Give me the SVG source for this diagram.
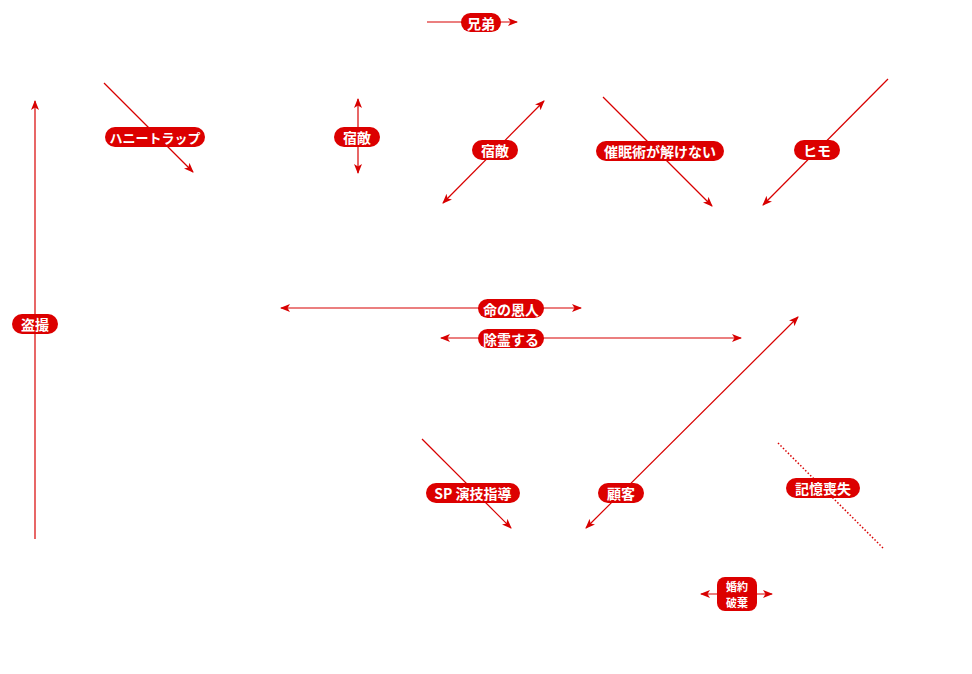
<svg xmlns="http://www.w3.org/2000/svg" width="972" height="674" viewBox="0 0 972 674">
<defs>
<marker id="ah" viewBox="0 0 10 8" refX="9" refY="4" markerWidth="10" markerHeight="8" markerUnits="userSpaceOnUse" orient="auto-start-reverse">
<path d="M0,0 L10,4 L0,8 L2.5,4 z" fill="#d80000"/>
</marker>
<style>
.c{stroke:#d80000;stroke-width:1.2;fill:none}
.d{stroke:#d80000;stroke-width:1.5;fill:none;stroke-dasharray:1.5 2}
.p{fill:#dc0000}
.t{fill:#fff;font-family:"Noto Sans CJK JP","Noto Sans",sans-serif;font-weight:bold;font-size:14px;text-anchor:middle;dominant-baseline:central}
.s{font-size:11px}
.m{font-size:13px}
</style>
</defs>
<rect width="972" height="674" fill="#fff"/>
<g id="connectors">
<line class="c" x1="427" y1="22" x2="517" y2="22" marker-end="url(#ah)"/>
<line class="c" x1="104" y1="83" x2="193" y2="172" marker-end="url(#ah)"/>
<line class="c" x1="358" y1="99" x2="358" y2="173" marker-start="url(#ah)" marker-end="url(#ah)"/>
<line class="c" x1="544" y1="101" x2="443" y2="203" marker-start="url(#ah)" marker-end="url(#ah)"/>
<line class="c" x1="603" y1="97" x2="712" y2="206" marker-end="url(#ah)"/>
<line class="c" x1="888" y1="79" x2="763" y2="205" marker-end="url(#ah)"/>
<line class="c" x1="35" y1="539" x2="35" y2="101" marker-end="url(#ah)"/>
<line class="c" x1="281" y1="308" x2="581" y2="308" marker-start="url(#ah)" marker-end="url(#ah)"/>
<line class="c" x1="441" y1="338" x2="741" y2="338" marker-start="url(#ah)" marker-end="url(#ah)"/>
<line class="c" x1="422" y1="439" x2="511" y2="528" marker-end="url(#ah)"/>
<line class="c" x1="798" y1="317" x2="586" y2="528" marker-start="url(#ah)" marker-end="url(#ah)"/>
<line class="d" x1="778" y1="443" x2="883" y2="548"/>
<line class="c" x1="701" y1="594" x2="772" y2="594" marker-start="url(#ah)" marker-end="url(#ah)"/>
</g>
<g id="n1"><rect class="p" x="461" y="13" width="40" height="19" rx="9.5"/><text class="t" x="481" y="22.5">兄弟</text></g>
<g id="n2"><rect class="p" x="105" y="127" width="100" height="20" rx="10"/><text class="t m" x="155" y="137">ハニートラップ</text></g>
<g id="n3"><rect class="p" x="334" y="127" width="46" height="20" rx="10"/><text class="t" x="357" y="137">宿敵</text></g>
<g id="n4"><rect class="p" x="472" y="140" width="46" height="20" rx="10"/><text class="t" x="495" y="150">宿敵</text></g>
<g id="n5"><rect class="p" x="596" y="141" width="128" height="20" rx="10"/><text class="t" x="660" y="151">催眠術が解けない</text></g>
<g id="n6"><rect class="p" x="794" y="140" width="46" height="20" rx="10"/><text class="t" x="817" y="150">ヒモ</text></g>
<g id="n7"><rect class="p" x="12" y="314" width="46" height="20" rx="10"/><text class="t" x="35" y="324">盗撮</text></g>
<g id="n8"><rect class="p" x="478" y="299" width="66" height="19" rx="9.5"/><text class="t" x="511" y="308.5">命の恩人</text></g>
<g id="n9"><rect class="p" x="478" y="329" width="66" height="19" rx="9.5"/><text class="t" x="511" y="338.5">除霊する</text></g>
<g id="n10"><rect class="p" x="426" y="483" width="94" height="20" rx="10"/><text class="t" x="473" y="493">SP 演技指導</text></g>
<g id="n11"><rect class="p" x="598" y="483" width="46" height="20" rx="10"/><text class="t" x="621" y="493">顧客</text></g>
<g id="n12"><rect class="p" x="786" y="478" width="74" height="20" rx="10"/><text class="t" x="823" y="488">記憶喪失</text></g>
<g id="n13"><rect class="p" x="717" y="577" width="40" height="34" rx="8"/><text class="t s" x="737" y="586">婚約</text><text class="t s" x="737" y="602">破棄</text></g>
</svg>
